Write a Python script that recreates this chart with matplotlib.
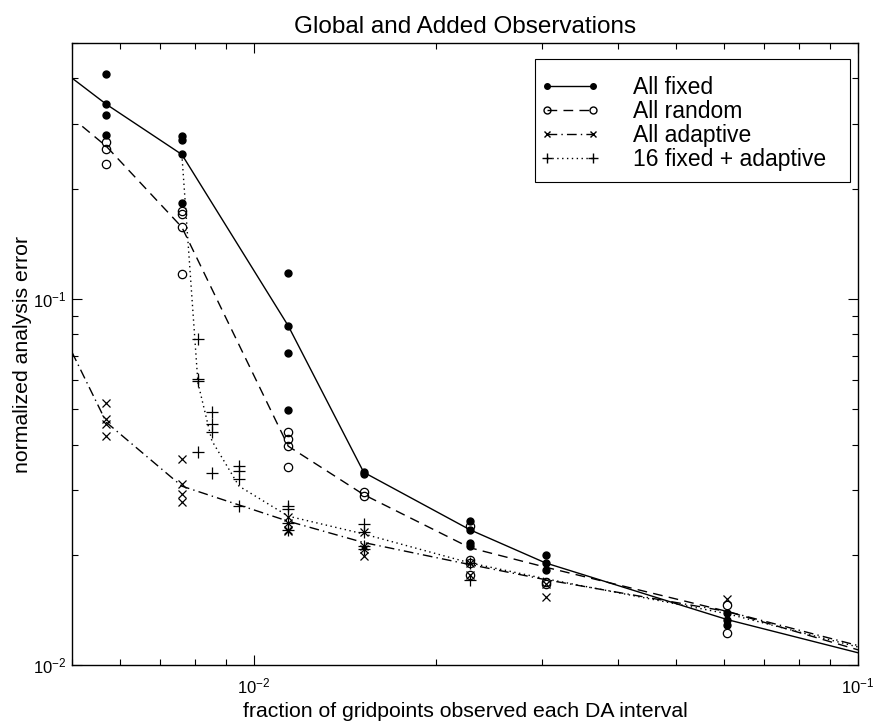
import matplotlib
matplotlib.use("Agg")
import matplotlib.pyplot as plt
from matplotlib.lines import Line2D
from matplotlib.patches import Rectangle
from matplotlib.legend_handler import HandlerLine2D
from matplotlib.ticker import NullFormatter

plt.rcParams['font.family'] = ['Liberation Sans', 'DejaVu Sans']
plt.rcParams['mathtext.fontset'] = 'custom'
plt.rcParams['mathtext.rm'] = 'Liberation Sans'
plt.rcParams['mathtext.it'] = 'Liberation Sans:italic'
plt.rcParams['mathtext.default'] = 'regular'

# ---------------- data ----------------
# All fixed (filled dots)
fixed_x = [0.0057, 0.0057, 0.0057, 0.0057,
           0.0076, 0.0076, 0.0076, 0.0076,
           0.0114, 0.0114, 0.0114, 0.0114,
           0.0152, 0.0152,
           0.0228, 0.0228, 0.0228, 0.0228,
           0.0304, 0.0304, 0.0304,
           0.0608, 0.0608, 0.0608]
fixed_y = [0.411, 0.340, 0.317, 0.281,
           0.278, 0.271, 0.248, 0.183,
           0.118, 0.0844, 0.0711, 0.0497,
           0.0336, 0.0332,
           0.0247, 0.0234, 0.0216, 0.0211,
           0.0200, 0.0190, 0.0182,
           0.0139, 0.0133, 0.0129]

# All random (open circles)
random_x = [0.0057, 0.0057, 0.0057,
            0.0076, 0.0076, 0.0076, 0.0076,
            0.0114, 0.0114, 0.0114, 0.0114,
            0.0152, 0.0152,
            0.0228, 0.0228, 0.0228, 0.0228,
            0.0304, 0.0304,
            0.0608, 0.0608]
random_y = [0.268, 0.256, 0.234,
            0.174, 0.171, 0.157, 0.117,
            0.0433, 0.0413, 0.0396, 0.0347,
            0.0296, 0.0289,
            0.0239, 0.0194, 0.0190, 0.0176,
            0.0169, 0.0166,
            0.0146, 0.0122]

# All adaptive (crosses)
adaptive_x = [0.0057, 0.0057, 0.0057, 0.0057,
              0.0076, 0.0076, 0.0076, 0.0076,
              0.0114, 0.0114, 0.0114, 0.0114,
              0.0152, 0.0152, 0.0152, 0.0152,
              0.0228, 0.0228,
              0.0304, 0.0304,
              0.0608]
adaptive_y = [0.0519, 0.0469, 0.0455, 0.0422,
              0.0365, 0.0313, 0.0294, 0.0278,
              0.0254, 0.0245, 0.0234, 0.0232,
              0.0231, 0.0211, 0.0208, 0.0198,
              0.0190, 0.0176,
              0.0166, 0.0153,
              0.0151]

# 16 fixed + adaptive (plus signs)
hybrid_x = [0.00808, 0.00808, 0.00808, 0.00808,
            0.00852, 0.00852, 0.00852, 0.00852,
            0.00945, 0.00945, 0.00945, 0.00945,
            0.0114, 0.0114, 0.0114, 0.0114,
            0.0152, 0.0152, 0.0152, 0.0152,
            0.0228, 0.0228]
hybrid_y = [0.0777, 0.0604, 0.0596, 0.0381,
            0.0490, 0.0455, 0.0432, 0.0334,
            0.0349, 0.0338, 0.0323, 0.0271,
            0.0271, 0.0266, 0.0245, 0.0234,
            0.0242, 0.0231, 0.0211, 0.0208,
            0.0190, 0.0171]

# connecting curves
fixed_line_x = [0.005, 0.0057, 0.0076, 0.0114, 0.0152, 0.0228, 0.0304, 0.0608, 0.1]
fixed_line_y = [0.401, 0.340, 0.248, 0.0844, 0.0336, 0.0234, 0.0190, 0.0133, 0.0108]

random_line_x = [0.0052, 0.0057, 0.0076, 0.0114, 0.0152, 0.0228, 0.0304, 0.0608, 0.1]
random_line_y = [0.296, 0.261, 0.157, 0.0396, 0.0292, 0.0209, 0.0185, 0.0140, 0.0110]

adaptive_line_x = [0.005, 0.0057, 0.0076, 0.0114, 0.0152, 0.0228, 0.0304, 0.0608, 0.1]
adaptive_line_y = [0.0715, 0.046, 0.0308, 0.0247, 0.0216, 0.0188, 0.0171, 0.0140, 0.0113]

hybrid_line_x = [0.0076, 0.00808, 0.00852, 0.00945, 0.0114, 0.0152, 0.0228, 0.0304, 0.0608, 0.1]
hybrid_line_y = [0.248, 0.059, 0.041, 0.0308, 0.0255, 0.0228, 0.0190, 0.0172, 0.0138, 0.0112]

labels = ["All fixed", "All random", "All adaptive", "16 fixed + adaptive"]

title = "Global and Added Observations"
xlabel = "fraction of gridpoints observed each DA interval"
ylabel = "normalized analysis error"

# ---------------- figure ----------------
W, H = 875, 721
fig = plt.figure(figsize=(W / 100, H / 100), dpi=100)
ax = fig.add_axes([72 / W, 1 - 665 / H, (858 - 72) / W, (665 - 43) / H])

lw = 1.0
DASH = (0, (7, 4.5))
DASHDOT = (0, (7, 3, 1, 3))
DOT = (0, (1, 2.5))

ax.plot(fixed_line_x, fixed_line_y, color='k', lw=lw, ls='-')
ax.plot(random_line_x, random_line_y, color='k', lw=lw, ls=DASH)
ax.plot(adaptive_line_x, adaptive_line_y, color='k', lw=lw, ls=DASHDOT)
ax.plot(hybrid_line_x, hybrid_line_y, color='k', lw=lw, ls=DOT)

ax.plot(fixed_x, fixed_y, ls='none', marker='o', ms=5, mfc='k', mec='k')
ax.plot(random_x, random_y, ls='none', marker='o', ms=6, mfc='none', mec='k', mew=0.9)
ax.plot(adaptive_x, adaptive_y, ls='none', marker='x', ms=6, mec='k', mew=0.9)
ax.plot(hybrid_x, hybrid_y, ls='none', marker='+', ms=8, mec='k', mew=0.9)

ax.set_xscale('log')
ax.set_yscale('log')
ax.set_xlim(0.005, 0.1)
ax.set_ylim(0.01, 0.5)

ax.xaxis.set_minor_formatter(NullFormatter())
ax.yaxis.set_minor_formatter(NullFormatter())
ax.tick_params(which='both', direction='in', top=True, right=True, width=0.8)
ax.tick_params(which='major', length=7, labelsize=12)
ax.tick_params(which='minor', length=4)
ax.tick_params(axis='x', which='major', pad=8)
ax.tick_params(axis='y', which='major', pad=4)
for s in ax.spines.values():
    s.set_linewidth(1.0)

ax.set_title(title, fontsize=17.5, pad=7)
ax.set_xlabel(xlabel, fontsize=15.3, labelpad=4)
ax.set_ylabel(ylabel, fontsize=15.3)
ax.yaxis.set_label_coords(-0.0509, 0.5)

# legend frame drawn explicitly (MATLAB-like box)
frame = Rectangle((535 / W, 1 - 182 / H), (850 - 535) / W, (182 - 59) / H,
                  transform=fig.transFigure, facecolor='white', edgecolor='k',
                  lw=0.8, zorder=4, clip_on=False)
ax.add_patch(frame)

handles = [
    Line2D([], [], color='k', lw=lw, ls='-', marker='o', ms=4, mfc='k', mec='k'),
    Line2D([], [], color='k', lw=lw, ls=DASH, marker='o', ms=5, mfc='none', mec='k'),
    Line2D([], [], color='k', lw=lw, ls=DASHDOT, marker='x', ms=4.5, mec='k'),
    Line2D([], [], color='k', lw=lw, ls=DOT, marker='+', ms=7, mec='k'),
]
leg = ax.legend(handles, labels, loc='upper left',
                bbox_to_anchor=(547 / W, 1 - 76 / H), bbox_transform=fig.transFigure,
                borderaxespad=0, borderpad=0, numpoints=2, fontsize=16.5,
                handlelength=2.0, handletextpad=1.75, labelspacing=0.04,
                frameon=False,
                handler_map={Line2D: HandlerLine2D(marker_pad=0)})
leg.set_zorder(5)

fig.savefig("out.png", dpi=100)
